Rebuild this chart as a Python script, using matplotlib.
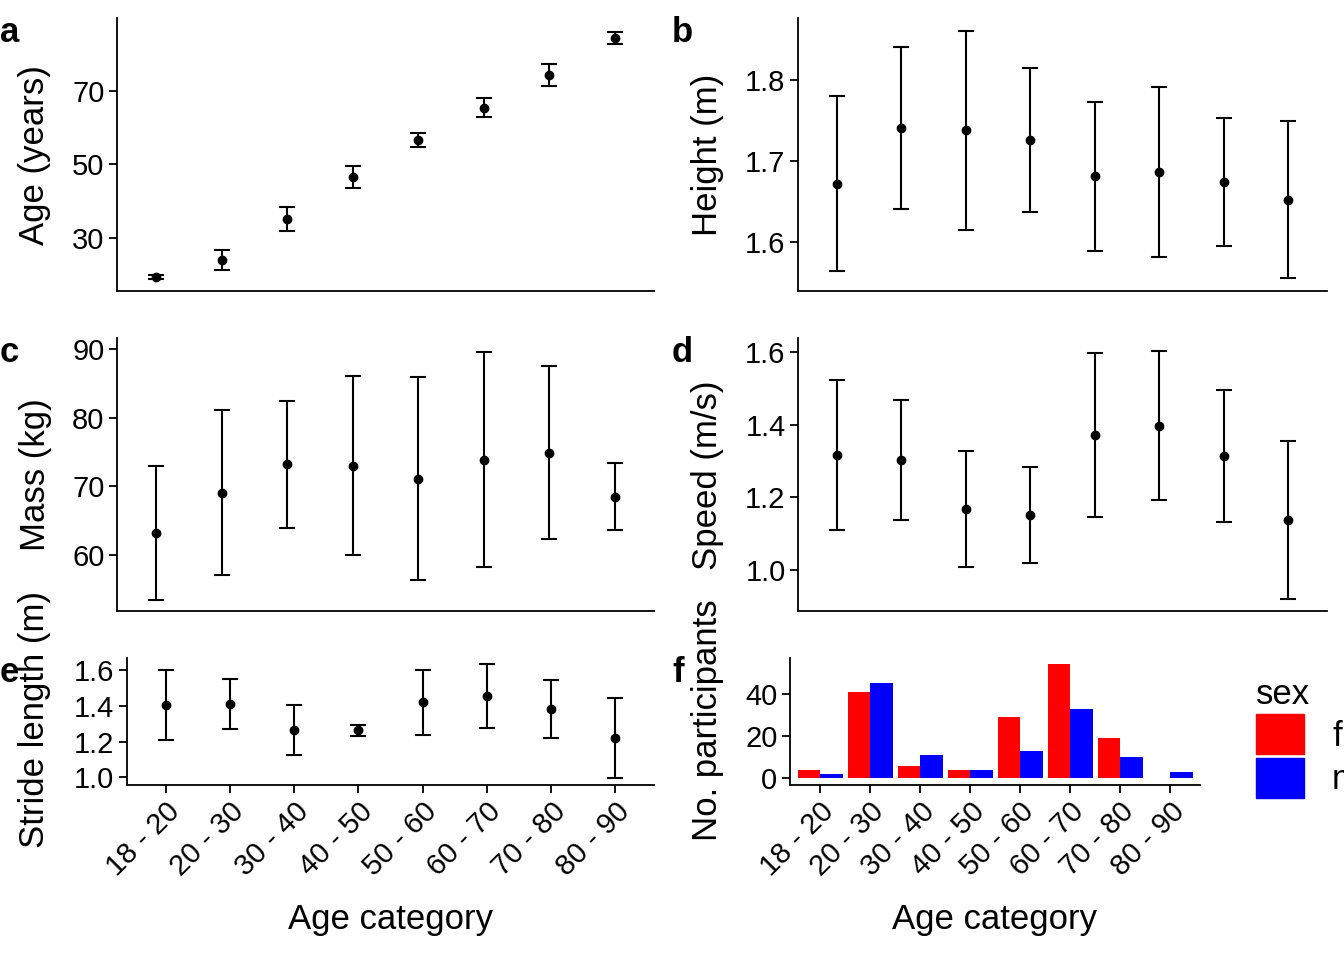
import numpy as np
import matplotlib
matplotlib.use("Agg")
import matplotlib.pyplot as plt
from matplotlib.patches import Patch

plt.rcParams['font.family'] = ['Liberation Sans', 'DejaVu Sans']

cats = ["18 - 20", "20 - 30", "30 - 40", "40 - 50", "50 - 60", "60 - 70", "70 - 80", "80 - 90"]

age_mean = [19.4, 24.0, 35.2, 46.6, 56.7, 65.4, 74.3, 84.4]
age_sd = [0.6, 2.7, 3.3, 3.0, 1.9, 2.6, 3.0, 1.6]
height_mean = [1.672, 1.741, 1.738, 1.726, 1.681, 1.686, 1.674, 1.652]
height_sd = [0.108, 0.100, 0.123, 0.089, 0.092, 0.105, 0.079, 0.097]
mass_mean = [63.2, 69.1, 73.2, 73.0, 71.1, 73.9, 74.9, 68.5]
mass_sd = [9.7, 12.0, 9.2, 13.0, 14.8, 15.7, 12.6, 4.9]
speed_mean = [1.317, 1.303, 1.168, 1.151, 1.372, 1.397, 1.314, 1.138]
speed_sd = [0.207, 0.166, 0.160, 0.133, 0.227, 0.205, 0.183, 0.218]
stride_mean = [1.404, 1.410, 1.265, 1.262, 1.420, 1.455, 1.381, 1.221]
stride_sd = [0.195, 0.139, 0.140, 0.031, 0.181, 0.178, 0.162, 0.225]
n_female = [4, 41, 6, 4, 29, 54, 19, 0]
n_male = [2, 45, 11, 4, 13, 33, 10, 3]

W, H = 1344, 960
fig = plt.figure(figsize=(W / 100, H / 100), dpi=100)

def px_axes(x0, y0, x1, y1):
    return fig.add_axes([x0 / W, 1 - y1 / H, (x1 - x0) / W, (y1 - y0) / H])

TICK = 21
LAB = 25

def style(ax, show_x):
    for s in ["top", "right"]:
        ax.spines[s].set_visible(False)
    for s in ["left", "bottom"]:
        ax.spines[s].set_linewidth(1.3)
        ax.spines[s].set_color("black")
    ax.tick_params(direction="out", length=6, width=1.3, labelsize=TICK, colors="black", pad=3)
    ax.set_xlim(0.4, 8.6)
    x = np.arange(1, 9)
    ax.set_xticks(x)
    if show_x:
        ax.set_xticklabels(cats, rotation=45, ha="right", rotation_mode="anchor")
    else:
        ax.set_xticks([])

def errplot(ax, mean, sd):
    x = np.arange(1, 9)
    ax.errorbar(x, mean, yerr=sd, fmt="o", color="black", ms=6, capsize=6, elinewidth=1.5, capthick=1.5)

def ylab(text, x, yc):
    fig.text(x / W, 1 - yc / H, text, rotation=90, ha="center", va="center", fontsize=LAB)

def letter(t, x, y):
    fig.text(x / W, 1 - y / H, t, fontsize=LAB, fontweight="bold", ha="left", va="center")

def xlab(ax, x0, x1):
    fig.text((x0 + x1) / 2 / W, 1 - 920 / H, "Age category", fontsize=LAB, ha="center", va="center")

# a
ax = px_axes(117, 18, 654, 291)
errplot(ax, age_mean, age_sd)
style(ax, False)
ax.set_ylim(15.6, 89.8)
ax.set_yticks([30, 50, 70])
ylab("Age (years)", 35, 155)
letter("a", 0, 32)

# b
ax = px_axes(798, 18, 1327, 291)
errplot(ax, height_mean, height_sd)
style(ax, False)
ax.set_ylim(1.5395, 1.8765)
ax.set_yticks([1.6, 1.7, 1.8])
ax.set_yticklabels(["1.6", "1.7", "1.8"])
ylab("Height (m)", 707, 155)
letter("b", 672, 32)

# c
ax = px_axes(117, 338, 654, 611)
errplot(ax, mass_mean, mass_sd)
style(ax, False)
ax.set_ylim(51.85, 91.6)
ax.set_yticks([60, 70, 80, 90])
ylab("Mass (kg)", 35, 475)
letter("c", 0, 352)

# d
ax = px_axes(798, 338, 1327, 611)
errplot(ax, speed_mean, speed_sd)
style(ax, False)
ax.set_ylim(0.887, 1.639)
ax.set_yticks([1.0, 1.2, 1.4, 1.6])
ax.set_yticklabels(["1.0", "1.2", "1.4", "1.6"])
ylab("Speed (m/s)", 707, 475)
letter("d", 672, 352)

# e
ax = px_axes(127, 658, 654, 785)
errplot(ax, stride_mean, stride_sd)
style(ax, True)
ax.set_ylim(0.957, 1.667)
ax.set_yticks([1.0, 1.2, 1.4, 1.6])
ax.set_yticklabels(["1.0", "1.2", "1.4", "1.6"])
xlab(ax, 127, 654)
ylab("Stride length (m)", 35, 720)
letter("e", 0, 672)

# f
ax = px_axes(790, 658, 1200, 785)
x = np.arange(1, 9)
ax.bar(x - 0.225, n_female, width=0.45, color="#FF0000")
ax.bar(x + 0.225, n_male, width=0.45, color="#0000FF")
style(ax, True)
ax.set_ylim(-3.2, 57)
ax.set_yticks([0, 20, 40])
xlab(ax, 790, 1200)
ylab("No. participants", 707, 720)
letter("f", 672, 672)

handles = [Patch(color="#FF0000", label="f"), Patch(color="#0000FF", label="m")]
leg = fig.legend(handles=handles, title="sex", loc="upper left", bbox_to_anchor=(1228 / W, 1 - 650 / H),
                 frameon=False, fontsize=LAB, title_fontsize=LAB, handlelength=1.4, handleheight=1.4,
                 handletextpad=0.8, labelspacing=0.1, borderpad=0.3)
leg._legend_box.align = "left"

fig.savefig("out.png", dpi=100)
